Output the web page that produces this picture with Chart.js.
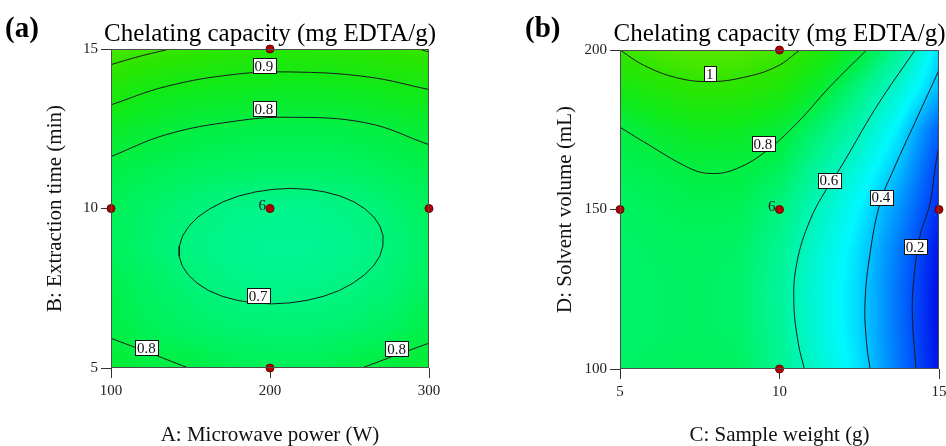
<!DOCTYPE html>
<html>
<head>
<meta charset="utf-8">
<script src="https://cdn.jsdelivr.net/npm/chart.js@4.4.0/dist/chart.umd.min.js"></script>
<style>
  html, body { margin: 0; padding: 0; background: #fff; overflow: hidden; width: 946px; height: 446px; }
  canvas { position: absolute; top: 0; }
  #chartA { left: 0; }
  #chartB { left: 473px; }
</style>
</head>
<body>
<canvas id="chartA" width="473" height="446"></canvas>
<canvas id="chartB" width="493" height="446"></canvas>
<script>
// ---- panel (a): A microwave power vs B extraction time ----
const aGridX = [100, 125, 150, 175, 200, 225, 250, 275, 300];
const aGridY = [5, 6.25, 7.5, 8.75, 10, 11.25, 12.5, 13.75, 15];
const aGridZ = [
    [0.83, 0.80, 0.797, 0.775, 0.765, 0.765, 0.785, 0.81, 0.835],
    [0.79, 0.76, 0.74, 0.725, 0.72, 0.72, 0.73, 0.75, 0.785],
    [0.78, 0.745, 0.718, 0.695, 0.685, 0.687, 0.698, 0.72, 0.755],
    [0.755, 0.725, 0.697, 0.675, 0.665, 0.667, 0.68, 0.705, 0.74],
    [0.765, 0.735, 0.71, 0.69, 0.68, 0.68, 0.695, 0.72, 0.75],
    [0.79, 0.77, 0.755, 0.745, 0.74, 0.74, 0.745, 0.76, 0.78],
    [0.854, 0.826, 0.80, 0.79, 0.784, 0.785, 0.79, 0.805, 0.829],
    [0.94, 0.895, 0.88, 0.87, 0.865, 0.863, 0.87, 0.885, 0.90],
    [1.03, 1.01, 0.99, 0.97, 0.96, 0.96, 0.97, 0.985, 1.005]
];
const a10L = [[100, 14.51], [118, 14.77], [137, 15]];
const a10R = [[294, 15], [300, 14.9]];
const a09 = [[100, 13.25], [135, 13.83], [176.9, 14.2], [212.6, 14.28], [260.8, 14.13], [300, 13.73]];
const a08T = [[100, 11.63], [135, 12.32], [176.9, 12.73], [212.6, 12.86], [260.8, 12.68], [300, 12.0]];
const a07 = [
    [271, 8.82], [271.1, 9.14], [269.2, 9.44], [265.4, 9.73], [259.9, 9.98], [252.8, 10.21],
    [244.2, 10.39], [234.5, 10.52], [224, 10.6], [213, 10.63], [201.8, 10.6], [190.8, 10.52],
    [180.2, 10.39], [170.5, 10.21], [161.8, 9.98], [154.6, 9.73], [148.9, 9.44], [145, 9.14],
    [143, 8.82], [142.9, 8.5], [144.8, 8.2], [148.6, 7.92], [154.1, 7.66], [161.3, 7.43],
    [169.8, 7.25], [179.5, 7.12], [190, 7.04], [201, 7.01], [212.2, 7.04], [223.3, 7.12],
    [233.8, 7.25], [243.6, 7.43], [252.2, 7.66], [259.4, 7.92], [265.1, 8.2], [269, 8.5], [271, 8.82]
];
const a08BL = [[100, 5.93], [122.4, 5.51], [148.6, 5.0]];
const a08BR = [[257.7, 5.0], [279.7, 5.41], [300, 5.78]];
const aLabels = ['0.9', '0.8', '0.7', '0.8', '0.8'];
const aLabelX = [196.2, 196.2, 192.5, 122.3, 279.7];
const aLabelY = [14.48, 13.12, 7.26, 5.64, 5.6];
const aPtX = [200, 100, 200, 300, 200];
const aPtY = [15, 10, 10, 10, 5];

// ---- panel (b): C sample weight vs D solvent volume ----
const bGridX = [5, 6.25, 7.5, 8.75, 10, 11.25, 12.5, 13.75, 15];
const bGridY = [100, 112.5, 125, 137.5, 150, 162.5, 175, 187.5, 200];
const bGridZ = [
    [0.74, 0.75, 0.755, 0.745, 0.675, 0.555, 0.435, 0.27, 0.11],
    [0.73, 0.74, 0.745, 0.735, 0.66, 0.535, 0.42, 0.26, 0.10],
    [0.73, 0.74, 0.745, 0.73, 0.655, 0.53, 0.42, 0.26, 0.10],
    [0.735, 0.745, 0.75, 0.74, 0.67, 0.55, 0.43, 0.275, 0.11],
    [0.745, 0.76, 0.77, 0.765, 0.70, 0.589, 0.462, 0.317, 0.15],
    [0.765, 0.78, 0.80, 0.795, 0.76, 0.645, 0.527, 0.38, 0.18],
    [0.795, 0.84, 0.87, 0.86, 0.82, 0.72, 0.61, 0.45, 0.23],
    [0.897, 0.94, 0.97, 0.965, 0.93, 0.83, 0.697, 0.546, 0.37],
    [1.0, 1.04, 1.06, 1.05, 1.02, 0.94, 0.82, 0.666, 0.43]
];
const b10 = [[5, 200], [5.73, 195.3], [6.78, 191.3], [7.82, 190.1], [8.87, 191.4], [9.91, 194.8], [10.64, 200]];
const b08 = [[5, 175.8], [5.73, 171.3], [7.19, 162.9], [7.82, 161.3], [8.55, 162.4], [9.49, 167.6], [10.54, 177], [11.58, 188.5], [12.73, 200]];
const b06 = [[14.25, 200], [13.04, 182.2], [11.9, 162.9], [11.58, 158.2], [10.96, 146.7], [10.54, 133.1], [10.45, 120.6], [10.59, 108], [10.78, 100]];
const b04 = [[15, 193.7], [14.28, 178], [13.57, 162.4], [13.15, 151.9], [12.84, 136.3], [12.68, 120.6], [12.73, 108.1], [12.84, 100]];
const b02 = [[15, 170], [14.87, 162.4], [14.72, 151.9], [14.4, 141.5], [14.19, 125.8], [14.17, 115.4], [14.28, 100]];
const bLabels = ['1', '0.8', '0.6', '0.4', '0.2'];
const bLabelX = [7.81, 9.48, 11.55, 13.18, 14.25];
const bLabelY = [192.6, 170.6, 159.1, 153.9, 138.3];
const bPtX = [10, 5, 10, 15, 10];
const bPtY = [200, 150, 150, 150, 100];

// colour ramp (value -> rgb), blue - cyan - green - yellowish
const colorStops = [
    [0.08, 0, 0, 230], [0.2, 0, 75, 250], [0.33, 0, 155, 255], [0.47, 0, 248, 255],
    [0.58, 0, 246, 195], [0.68, 0, 245, 140], [0.78, 0, 240, 75], [0.88, 15, 234, 25],
    [0.98, 45, 230, 0], [1.08, 100, 232, 0]
];
const serif = "'Liberation Serif', 'Times New Roman', serif";

function colorAt(v) {
    if (v <= colorStops[0][0]) return colorStops[0].slice(1);
    for (let i = 1; i < colorStops.length; i++) {
        if (v <= colorStops[i][0]) {
            const a = colorStops[i - 1], b = colorStops[i];
            const t = (v - a[0]) / (b[0] - a[0]);
            return [a[1] + (b[1] - a[1]) * t, a[2] + (b[2] - a[2]) * t, a[3] + (b[3] - a[3]) * t];
        }
    }
    return colorStops[colorStops.length - 1].slice(1);
}

function toPts(arr) {
    return arr.map(p => ({ x: p[0], y: p[1] }));
}

function lineSet(arr) {
    // the closed ellipse is densely sampled, so it is drawn straight
    const closed = arr.length > 20;
    return {
        type: 'scatter', data: toPts(arr), showLine: true, pointRadius: 0,
        borderColor: '#1a1a1a', borderWidth: 1, tension: closed ? 0 : 0.4
    };
}

function fieldPlugin(gx, gy, gz, labels, lx, ly, centre) {
    return {
        id: 'field',
        beforeDatasetsDraw(chart) {
            const { ctx, chartArea: ca, scales: { x, y } } = chart;
            const w = Math.round(ca.right - ca.left), h = Math.round(ca.bottom - ca.top);
            const off = document.createElement('canvas');
            off.width = w; off.height = h;
            const octx = off.getContext('2d');
            const img = octx.createImageData(w, h);
            const nx = gx.length, ny = gy.length;
            for (let j = 0; j < h; j++) {
                const vy = y.getValueForPixel(ca.top + j + 0.5);
                let fy = (vy - gy[0]) / (gy[ny - 1] - gy[0]) * (ny - 1);
                fy = Math.min(Math.max(fy, 0), ny - 1.0001);
                const j0 = Math.floor(fy), ty = fy - j0;
                for (let i = 0; i < w; i++) {
                    const vx = x.getValueForPixel(ca.left + i + 0.5);
                    let fx = (vx - gx[0]) / (gx[nx - 1] - gx[0]) * (nx - 1);
                    fx = Math.min(Math.max(fx, 0), nx - 1.0001);
                    const i0 = Math.floor(fx), tx = fx - i0;
                    const v = (1 - tx) * (1 - ty) * gz[j0][i0] + tx * (1 - ty) * gz[j0][i0 + 1]
                        + (1 - tx) * ty * gz[j0 + 1][i0] + tx * ty * gz[j0 + 1][i0 + 1];
                    const c = colorAt(v);
                    const k = (j * w + i) * 4;
                    img.data[k] = c[0]; img.data[k + 1] = c[1]; img.data[k + 2] = c[2]; img.data[k + 3] = 255;
                }
            }
            octx.putImageData(img, 0, 0);
            ctx.drawImage(off, ca.left, ca.top);
        },
        afterDatasetsDraw(chart) {
            const { ctx, chartArea: ca, scales: { x, y } } = chart;
            ctx.save();
            ctx.strokeStyle = '#4d4d4d';
            ctx.lineWidth = 1;
            ctx.strokeRect(ca.left + 0.5, ca.top + 0.5, ca.right - ca.left - 1, ca.bottom - ca.top - 1);
            ctx.font = '15px ' + serif;
            ctx.textAlign = 'center';
            ctx.textBaseline = 'middle';
            labels.forEach((t, i) => {
                const px = x.getPixelForValue(lx[i]), py = y.getPixelForValue(ly[i]);
                const tw = ctx.measureText(t).width + 4;
                ctx.fillStyle = '#fff';
                ctx.fillRect(Math.round(px - tw / 2) + 0.5, Math.round(py - 7.5) + 0.5, Math.round(tw), 15);
                ctx.strokeStyle = '#111';
                ctx.strokeRect(Math.round(px - tw / 2) + 0.5, Math.round(py - 7.5) + 0.5, Math.round(tw), 15);
                ctx.fillStyle = '#111';
                ctx.fillText(t, px, py + 1);
            });
            // replicate count next to the centre point
            ctx.textAlign = 'right';
            ctx.textBaseline = 'alphabetic';
            ctx.fillStyle = '#222';
            ctx.fillText('6', x.getPixelForValue(centre[0]) - 4, y.getPixelForValue(centre[1]) + 1);
            ctx.restore();
        }
    };
}

function titlePlugin(tag, cx) {
    return {
        id: 'titles',
        afterDraw(chart) {
            const ctx = chart.ctx;
            ctx.save();
            ctx.fillStyle = '#000';
            ctx.textBaseline = 'alphabetic';
            ctx.textAlign = 'left';
            ctx.font = 'bold 29px ' + serif;
            ctx.fillText(tag, cx.tagX, 37);
            ctx.textAlign = 'center';
            ctx.font = '25px ' + serif;
            ctx.fillText('Chelating capacity (mg EDTA/g)', (chart.chartArea.left + chart.chartArea.right) / 2, 41);
            ctx.restore();
        }
    };
}

function axis(min, max, step, title, pad, fit) {
    return {
        type: 'linear', min: min, max: max,
        border: { display: false },
        grid: { drawOnChartArea: false, drawTicks: true, tickLength: 10, color: '#333' },
        ticks: { stepSize: step, autoSkip: false, maxRotation: 0, padding: pad.tick, color: '#222', font: { family: serif, size: 15 } },
        title: { display: true, text: title, color: '#111', padding: pad.title, font: { family: serif, size: 21, lineHeight: 1 } },
        afterFit: fit
    };
}

function makeChart(id, cfg) {
    return new Chart(document.getElementById(id), {
        type: 'scatter',
        data: {
            datasets: cfg.lines.map(lineSet).concat([{
                type: 'scatter', data: cfg.ptX.map((v, i) => ({ x: v, y: cfg.ptY[i] })),
                pointRadius: 4, backgroundColor: '#b00000', borderColor: '#6a0000', borderWidth: 1, clip: false
            }])
        },
        options: {
            responsive: false, animation: false, devicePixelRatio: 1,
            layout: { padding: { top: cfg.top, right: cfg.right, left: 0, bottom: 0 } },
            plugins: { legend: { display: false }, tooltip: { enabled: false } },
            scales: {
                x: axis(cfg.xr[0], cfg.xr[1], cfg.xr[2], cfg.xTitle, { tick: 4, title: { top: 0, bottom: 0 } },
                    s => { s.height = 446 - cfg.bottom; }),
                y: axis(cfg.yr[0], cfg.yr[1], cfg.yr[2], cfg.yTitle, { tick: 3, title: { top: cfg.yTitlePad, bottom: 0 } },
                    s => { s.width = cfg.left; })
            }
        },
        plugins: [fieldPlugin(cfg.gx, cfg.gy, cfg.gz, cfg.labels, cfg.lx, cfg.ly, cfg.centre), titlePlugin(cfg.tag, cfg)]
    });
}

makeChart('chartA', {
    lines: [a10L, a10R, a09, a08T, a07, a08BL, a08BR],
    ptX: aPtX, ptY: aPtY, gx: aGridX, gy: aGridY, gz: aGridZ,
    labels: aLabels, lx: aLabelX, ly: aLabelY, centre: [200, 10],
    xr: [100, 300, 100], yr: [5, 15, 5],
    xTitle: 'A: Microwave power (W)', yTitle: 'B: Extraction time (min)',
    top: 49, right: 44, bottom: 368, left: 111, yTitlePad: 44.5, tag: '(a)', tagX: 5
});

makeChart('chartB', {
    lines: [b10, b08, b06, b04, b02],
    ptX: bPtX, ptY: bPtY, gx: bGridX, gy: bGridY, gz: bGridZ,
    labels: bLabels, lx: bLabelX, ly: bLabelY, centre: [10, 150],
    xr: [5, 15, 5], yr: [100, 200, 50],
    xTitle: 'C: Sample weight (g)', yTitle: 'D: Solvent volume (mL)',
    top: 50, right: 27, bottom: 369, left: 147, yTitlePad: 81.5, tag: '(b)', tagX: 52
});
</script>
</body>
</html>
